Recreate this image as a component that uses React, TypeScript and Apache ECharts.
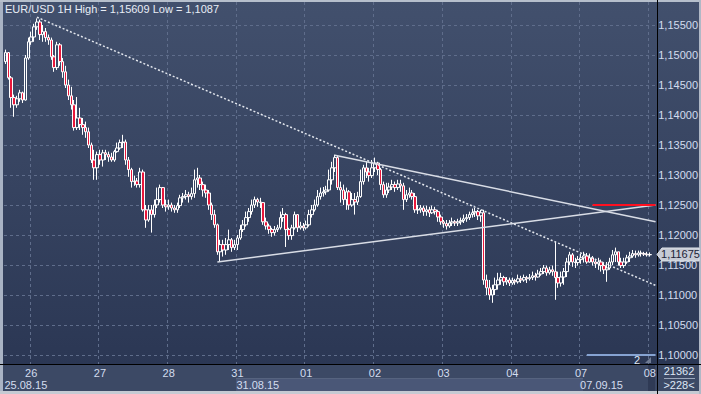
import React, { useEffect, useRef } from 'react';
import * as echarts from 'echarts';

const FONT = '"Liberation Sans Narrow", "Arial Narrow", "Liberation Sans", Arial, sans-serif';

const title = 'EUR/USD 1H High = 1,15609 Low = 1,1087';
const dayDates = ['25.08.15', '26.08.15', '27.08.15', '28.08.15', '31.08.15', '01.09.15', '02.09.15', '03.09.15', '04.09.15', '07.09.15', '08.09.15'];
const firstHour = 15;
const lastDayHours = 3;
const weekLabels = ['25.08.15', '31.08.15', '07.09.15'];
const barsTotal = '21362';
const barsVisible = '>228<';
const subWindowLabel = '2';

const firstOpen = 1.1489;
const closes = [
  1.1504, 1.1462, 1.1429, 1.1417, 1.1427, 1.1437, 1.1425, 1.1495, 1.1522, 1.1530,
  1.1547, 1.1555, 1.1534, 1.1539, 1.1529, 1.1525, 1.1497, 1.1479, 1.1517, 1.1489,
  1.1472, 1.1450, 1.1432, 1.1417, 1.1379, 1.1395, 1.1384, 1.1379, 1.1372, 1.1350,
  1.1325, 1.1312, 1.1334, 1.1325, 1.1337, 1.1334, 1.1330, 1.1325, 1.1339, 1.1345,
  1.1354, 1.1355, 1.1325, 1.1309, 1.1289, 1.1290, 1.1284, 1.1305, 1.1242, 1.1225,
  1.1242, 1.1234, 1.1250, 1.1259, 1.1279, 1.1250, 1.1247, 1.1250, 1.1245, 1.1242,
  1.1249, 1.1262, 1.1264, 1.1267, 1.1264, 1.1269, 1.1292, 1.1295, 1.1284, 1.1275,
  1.1270, 1.1250, 1.1234, 1.1217, 1.1172, 1.1184, 1.1175, 1.1184, 1.1192, 1.1179,
  1.1184, 1.1195, 1.1209, 1.1217, 1.1229, 1.1239, 1.1250, 1.1259, 1.1255, 1.1254,
  1.1222, 1.1215, 1.1209, 1.1204, 1.1209, 1.1212, 1.1229, 1.1234, 1.1209, 1.1199,
  1.1212, 1.1234, 1.1212, 1.1215, 1.1212, 1.1217, 1.1234, 1.1242, 1.1250, 1.1264,
  1.1270, 1.1272, 1.1275, 1.1292, 1.1312, 1.1329, 1.1279, 1.1275, 1.1259, 1.1272,
  1.1250, 1.1259, 1.1255, 1.1264, 1.1289, 1.1312, 1.1305, 1.1299, 1.1312, 1.1320,
  1.1309, 1.1284, 1.1267, 1.1275, 1.1280, 1.1284, 1.1279, 1.1285, 1.1282, 1.1259,
  1.1267, 1.1270, 1.1264, 1.1242, 1.1242, 1.1245, 1.1239, 1.1242, 1.1237, 1.1242,
  1.1239, 1.1230, 1.1222, 1.1219, 1.1215, 1.1220, 1.1222, 1.1220, 1.1222, 1.1224,
  1.1227, 1.1229, 1.1234, 1.1237, 1.1239, 1.1232, 1.1237, 1.1125, 1.1112, 1.1100,
  1.1109, 1.1117, 1.1125, 1.1129, 1.1122, 1.1125, 1.1120, 1.1124, 1.1122, 1.1127,
  1.1125, 1.1129, 1.1127, 1.1129, 1.1132, 1.1130, 1.1135, 1.1139, 1.1145, 1.1137,
  1.1142, 1.1139, 1.1129, 1.1120, 1.1130, 1.1139, 1.1155, 1.1167, 1.1155, 1.1154,
  1.1159, 1.1162, 1.1165, 1.1155, 1.1162, 1.1155, 1.1152, 1.1155, 1.1149, 1.1142,
  1.1145, 1.1155, 1.1167, 1.1172, 1.1155, 1.1149, 1.1155, 1.1162, 1.1165, 1.1169,
  1.1167, 1.1170, 1.1169, 1.1168, 1.1167, 1.11675,
];
const highs = [
  1.1509, 1.1505, 1.1465, 1.1434, 1.1432, 1.1442, 1.1439, 1.1500, 1.1529, 1.1539,
  1.1552, 1.1561, 1.1559, 1.1550, 1.1545, 1.1534, 1.1529, 1.1500, 1.1522, 1.1520,
  1.1495, 1.1482, 1.1459, 1.1447, 1.1425, 1.1430, 1.1412, 1.1395, 1.1389, 1.1379,
  1.1354, 1.1342, 1.1339, 1.1342, 1.1342, 1.1342, 1.1339, 1.1337, 1.1342, 1.1354,
  1.1359, 1.1367, 1.1359, 1.1330, 1.1312, 1.1299, 1.1295, 1.1312, 1.1309, 1.1250,
  1.1250, 1.1250, 1.1259, 1.1279, 1.1284, 1.1280, 1.1259, 1.1259, 1.1254, 1.1250,
  1.1254, 1.1267, 1.1270, 1.1275, 1.1272, 1.1279, 1.1309, 1.1312, 1.1300, 1.1289,
  1.1284, 1.1275, 1.1254, 1.1242, 1.1219, 1.1192, 1.1192, 1.1195, 1.1209, 1.1195,
  1.1192, 1.1200, 1.1217, 1.1225, 1.1239, 1.1245, 1.1259, 1.1264, 1.1262, 1.1262,
  1.1255, 1.1229, 1.1219, 1.1212, 1.1215, 1.1217, 1.1239, 1.1245, 1.1237, 1.1212,
  1.1217, 1.1239, 1.1235, 1.1222, 1.1220, 1.1224, 1.1242, 1.1250, 1.1259, 1.1275,
  1.1279, 1.1280, 1.1282, 1.1309, 1.1322, 1.1334, 1.1332, 1.1289, 1.1284, 1.1279,
  1.1275, 1.1270, 1.1270, 1.1272, 1.1309, 1.1317, 1.1322, 1.1312, 1.1325, 1.1329,
  1.1322, 1.1312, 1.1289, 1.1287, 1.1287, 1.1292, 1.1289, 1.1292, 1.1292, 1.1287,
  1.1275, 1.1279, 1.1275, 1.1270, 1.1250, 1.1250, 1.1249, 1.1249, 1.1247, 1.1249,
  1.1247, 1.1242, 1.1234, 1.1225, 1.1225, 1.1225, 1.1229, 1.1225, 1.1227, 1.1229,
  1.1234, 1.1235, 1.1239, 1.1244, 1.1245, 1.1242, 1.1242, 1.1242, 1.1134, 1.1125,
  1.1117, 1.1129, 1.1137, 1.1137, 1.1132, 1.1130, 1.1129, 1.1129, 1.1127, 1.1134,
  1.1132, 1.1134, 1.1132, 1.1135, 1.1139, 1.1137, 1.1142, 1.1145, 1.1150, 1.1149,
  1.1147, 1.1149, 1.1189, 1.1139, 1.1139, 1.1145, 1.1162, 1.1172, 1.1170, 1.1162,
  1.1165, 1.1169, 1.1172, 1.1170, 1.1169, 1.1165, 1.1160, 1.1162, 1.1159, 1.1155,
  1.1155, 1.1162, 1.1175, 1.1179, 1.1172, 1.1162, 1.1162, 1.1167, 1.1172, 1.1175,
  1.1174, 1.1174, 1.1174, 1.1172, 1.1172, 1.1171,
];
const lows = [
  1.1485, 1.1459, 1.1412, 1.1397, 1.1412, 1.1422, 1.1420, 1.1424, 1.1492, 1.1517,
  1.1522, 1.1542, 1.1525, 1.1522, 1.1522, 1.1517, 1.1492, 1.1472, 1.1475, 1.1482,
  1.1462, 1.1445, 1.1425, 1.1409, 1.1374, 1.1375, 1.1375, 1.1367, 1.1362, 1.1345,
  1.1320, 1.1292, 1.1292, 1.1317, 1.1314, 1.1325, 1.1322, 1.1322, 1.1322, 1.1337,
  1.1342, 1.1345, 1.1317, 1.1297, 1.1279, 1.1282, 1.1279, 1.1279, 1.1239, 1.1212,
  1.1222, 1.1204, 1.1229, 1.1245, 1.1254, 1.1245, 1.1239, 1.1242, 1.1239, 1.1237,
  1.1237, 1.1245, 1.1254, 1.1259, 1.1254, 1.1259, 1.1262, 1.1279, 1.1275, 1.1264,
  1.1262, 1.1242, 1.1225, 1.1212, 1.1167, 1.1155, 1.1164, 1.1167, 1.1175, 1.1172,
  1.1175, 1.1175, 1.1192, 1.1205, 1.1214, 1.1222, 1.1234, 1.1245, 1.1247, 1.1245,
  1.1217, 1.1209, 1.1202, 1.1197, 1.1199, 1.1205, 1.1209, 1.1222, 1.1180, 1.1192,
  1.1192, 1.1209, 1.1205, 1.1209, 1.1207, 1.1209, 1.1214, 1.1229, 1.1239, 1.1247,
  1.1259, 1.1264, 1.1267, 1.1272, 1.1284, 1.1305, 1.1275, 1.1254, 1.1250, 1.1242,
  1.1242, 1.1247, 1.1234, 1.1250, 1.1262, 1.1284, 1.1295, 1.1289, 1.1295, 1.1305,
  1.1300, 1.1275, 1.1262, 1.1262, 1.1270, 1.1275, 1.1272, 1.1275, 1.1272, 1.1242,
  1.1255, 1.1262, 1.1259, 1.1237, 1.1235, 1.1237, 1.1232, 1.1232, 1.1230, 1.1235,
  1.1234, 1.1222, 1.1217, 1.1212, 1.1209, 1.1212, 1.1215, 1.1215, 1.1215, 1.1217,
  1.1220, 1.1222, 1.1225, 1.1229, 1.1230, 1.1225, 1.1222, 1.1117, 1.1100, 1.1092,
  1.1087, 1.1100, 1.1109, 1.1117, 1.1115, 1.1117, 1.1115, 1.1117, 1.1117, 1.1119,
  1.1120, 1.1122, 1.1120, 1.1124, 1.1125, 1.1124, 1.1129, 1.1132, 1.1135, 1.1132,
  1.1134, 1.1132, 1.1092, 1.1112, 1.1114, 1.1117, 1.1130, 1.1150, 1.1147, 1.1145,
  1.1149, 1.1152, 1.1154, 1.1152, 1.1154, 1.1149, 1.1145, 1.1142, 1.1139, 1.1135,
  1.1122, 1.1142, 1.1150, 1.1155, 1.1149, 1.1145, 1.1145, 1.1152, 1.1155, 1.1162,
  1.1162, 1.1164, 1.1164, 1.1165, 1.1164, 1.1164,
];

// trend lines drawn on the chart: [category index, price]
const trendDotted = [[11, 1.1563], [227, 1.1116]];
const trendUpper = [[115, 1.1333], [227, 1.1222]];
const trendLower = [[74, 1.1155], [227, 1.125]];
const targetLevel = [[205, 1.125], [227, 1.125]];
const indicatorLevel = [[203, 1.1], [227, 1.1]];

const priceMin = 1.0985;
const priceMax = 1.1588333;
const tickMin = 1.095;
const tickMax = 1.1591667;
const tickStep = 0.005;

const categories: string[] = [];
dayDates.forEach((d, di) => {
  const start = di === 0 ? firstHour : 0;
  const end = di === dayDates.length - 1 ? lastDayHours : 24;
  for (let h = start; h < end; h++) categories.push(d + ' ' + String(h).padStart(2, '0') + ':00');
});

const candleData = closes.map((c, i) => [i === 0 ? firstOpen : closes[i - 1], c, lows[i], highs[i]]);

const fmtPrice = (v: number) => v.toFixed(5).replace('.', ',');

const GRID_DASH = '#5f6d8b';
const LABEL = '#d3ddef';

function segment(pts: number[][], lineStyle: any) {
  return [
    { coord: pts[0], lineStyle },
    { coord: pts[1] },
  ];
}

export default function App() {
  const ref = useRef<HTMLDivElement>(null);
  useEffect(() => {
    const chart = echarts.init(ref.current!, null, { renderer: 'svg' });
    const option: any = {
      animation: false,
      backgroundColor: 'transparent',
      textStyle: { fontFamily: FONT },
      grid: [
        { left: 4, right: 44, top: 2, bottom: 30 },
        { left: 4, right: 44, top: 0, bottom: 9 },
      ],
      xAxis: [
        {
          type: 'category', gridIndex: 0, data: categories, boundaryGap: true,
          axisLine: { show: true, lineStyle: { color: '#000000', width: 1 } },
          axisTick: { show: false },
          axisLabel: {
            interval: (_i: number, v: string) => v.endsWith(' 00:00'),
            formatter: (v: string) => v.slice(0, 2),
            color: LABEL, fontSize: 11, fontFamily: FONT, margin: 3,
          },
          splitLine: {
            show: true,
            interval: (_i: number, v: string) => v.endsWith(' 00:00'),
            lineStyle: { color: GRID_DASH, type: [3, 3], width: 1 },
          },
        },
        {
          type: 'category', gridIndex: 0, data: categories, boundaryGap: true, position: 'bottom', offset: 12,
          axisLine: { show: false }, axisTick: { show: false }, splitLine: { show: false },
          axisLabel: {
            interval: (i: number, v: string) => i === 0 || (v.endsWith(' 00:00') && weekLabels.includes(v.slice(0, 8))),
            formatter: (v: string) => v.slice(0, 8),
            align: 'left', color: LABEL, fontSize: 11, fontFamily: FONT, margin: 3, padding: [0, 0, 0, -1],
          },
        },
        { type: 'value', gridIndex: 1, show: false, min: 0, max: 1 },
      ],
      yAxis: [
        { type: 'value', gridIndex: 0, min: priceMin, max: priceMax, show: false, position: 'right', scale: true },
        {
          type: 'value', gridIndex: 1, min: tickMin, max: tickMax, interval: tickStep, position: 'right',
          axisLine: { show: false }, axisTick: { show: false },
          axisLabel: {
            showMinLabel: false, showMaxLabel: false, formatter: (v: number) => fmtPrice(v),
            color: LABEL, fontSize: 11, fontFamily: FONT, margin: 3, lineHeight: 10,
          },
          splitLine: { show: true, showMinLine: false, showMaxLine: false, lineStyle: { color: GRID_DASH, type: [3, 3], width: 1 } },
        },
      ],
      series: [
        {
          type: 'candlestick', xAxisIndex: 0, yAxisIndex: 0, data: candleData, barWidth: 3,
          itemStyle: {
            color: 'rgba(0,0,0,0)', color0: '#e8173b',
            borderColor: '#ffffff', borderColor0: '#ffffff', borderColorDoji: '#ffffff', borderWidth: 1,
          },
          emphasis: { disabled: true },
          markLine: {
            silent: true, symbol: ['none', 'none'], label: { show: false }, emphasis: { disabled: true },
            data: [
              segment(trendDotted, { color: '#e4e8ef', width: 1.5, type: [2, 2] }),
              segment(trendUpper, { color: '#d9dde6', width: 1.5, type: 'solid' }),
              segment(trendLower, { color: '#d9dde6', width: 1.5, type: 'solid' }),
              segment(targetLevel, { color: '#ff1020', width: 2, type: 'solid' }),
              segment(indicatorLevel, { color: '#86a3d2', width: 2, type: 'solid' }),
            ],
          },
        },
      ],
    };
    chart.setOption(option);
    const lastY = chart.convertToPixel({ yAxisIndex: 0 }, closes[closes.length - 1]) as number;
    chart.setOption({
      graphic: [
        { type: 'line', z: 50, shape: { x1: 0, y1: 364.5, x2: 701, y2: 364.5 }, style: { stroke: '#000000', lineWidth: 1 } },
        { type: 'line', z: 50, shape: { x1: 657.5, y1: 0, x2: 657.5, y2: 394 }, style: { stroke: '#000000', lineWidth: 1 } },
        { type: 'text', z: 60, x: 5, y: 9, style: { text: title, fill: '#e8edf6', fontSize: 11, fontFamily: FONT, align: 'left', verticalAlign: 'middle' } },
        { type: 'text', z: 60, x: 637, y: 360, style: { text: subWindowLabel, fill: '#dfe7f5', fontSize: 11, fontFamily: FONT, align: 'center', verticalAlign: 'middle' } },
        { type: 'polygon', z: 60, shape: { points: [[645, 363], [651, 357], [651, 363]] }, style: { fill: '#6f7b93' } },
        {
          type: 'polygon', z: 60,
          shape: { points: [[657, lastY], [662, lastY - 6.5], [699, lastY - 6.5], [699, lastY + 6.5], [662, lastY + 6.5]] },
          style: { fill: '#c6cbd5', stroke: '#dfe3ea', lineWidth: 1 },
        },
        { type: 'text', z: 61, x: 680.5, y: lastY - 0.5, style: { text: fmtPrice(closes[closes.length - 1]), fill: '#1b2438', fontSize: 11, lineHeight: 10, fontFamily: FONT, align: 'center', verticalAlign: 'middle' } },
        { type: 'text', z: 60, x: 679, y: 371, style: { text: barsTotal, fill: '#dfe7f5', fontSize: 11, fontFamily: FONT, align: 'center', verticalAlign: 'middle' } },
        { type: 'line', z: 60, shape: { x1: 664, y1: 378.5, x2: 695, y2: 378.5 }, style: { stroke: '#9aa6bb', lineWidth: 1 } },
        { type: 'text', z: 60, x: 679, y: 385, style: { text: barsVisible, fill: '#dfe7f5', fontSize: 11, fontFamily: FONT, align: 'center', verticalAlign: 'middle' } },
      ],
    });
    return () => chart.dispose();
  }, []);

  const abs = (s: any) => ({ position: 'absolute', ...s }) as React.CSSProperties;
  return (
    <div style={{ position: 'fixed', left: 0, top: 0, width: 701, height: 394, overflow: 'hidden', background: '#3c4965' }}>
      <div style={abs({ left: 0, top: 0, width: 701, height: 364, background: 'linear-gradient(#42506d, #2b3754)' })} />
      <div style={abs({ left: 236, top: 378, width: 347, height: 13, background: '#4a5777', borderTop: '1px solid #56637f' })} />
      <div style={abs({ left: 648, top: 365, width: 7, height: 29, background: '#2f3a55' })} />
      <div style={abs({ left: 0, top: 0, width: 3, height: 394, background: '#a9b3c4' })} />
      <div style={abs({ left: 0, top: 0, width: 701, height: 2, background: '#b6bfcc' })} />
      <div style={abs({ left: 0, top: 391, width: 701, height: 3, background: '#c5cad3' })} />
      <div style={abs({ left: 699, top: 0, width: 2, height: 394, background: '#b0b8c6' })} />
      <div ref={ref} style={abs({ left: 0, top: 0, width: 701, height: 394 })} />
    </div>
  );
}
